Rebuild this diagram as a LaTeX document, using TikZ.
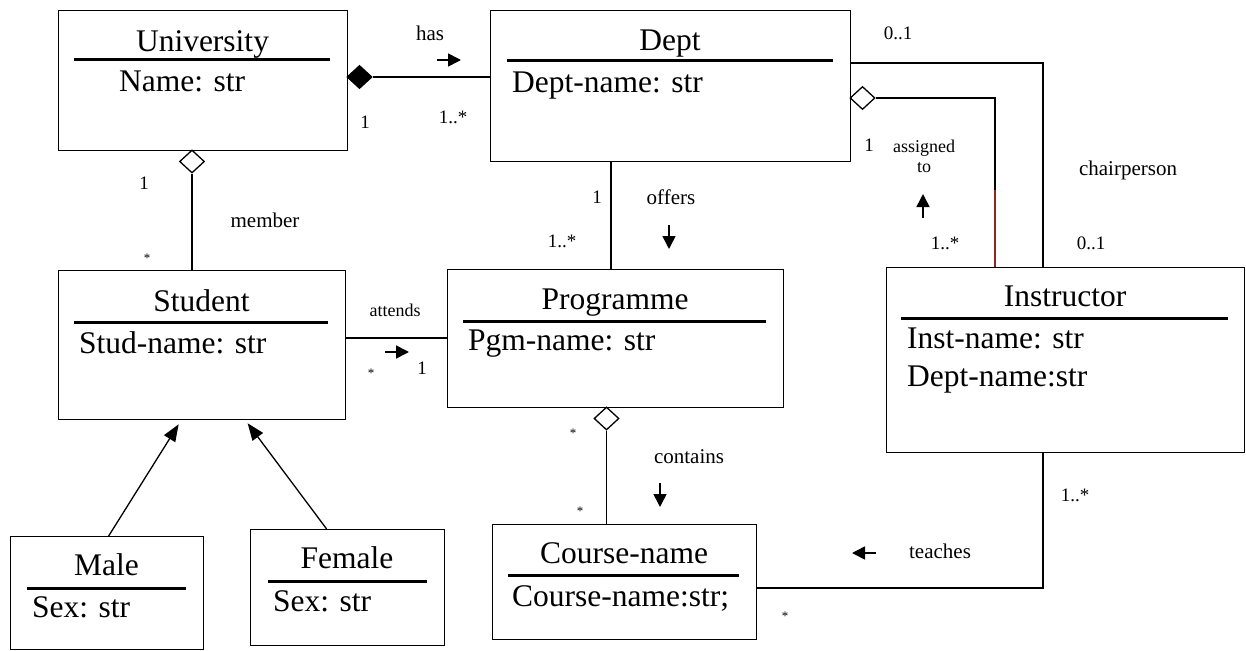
\documentclass[tikz,border=0pt]{standalone}
\usepackage{fontspec}
\setmainfont{Liberation Serif}
\usetikzlibrary{arrows.meta,shapes.geometric}

\begin{document}
\begin{tikzpicture}[x=1pt,y=-1pt,
  classbox/.style={draw, line width=1.3pt, inner sep=0pt, anchor=north west},
  ctitle/.style={font=\fontsize{31.5}{36}\selectfont, inner sep=0pt, anchor=base},
  cattr/.style={font=\fontsize{31.5}{36}\selectfont, inner sep=0pt, anchor=base west},
  cbar/.style={line width=3pt},
  lbl/.style={font=\fontsize{21}{24}\selectfont, inner sep=0pt},
  slbl/.style={font=\fontsize{18}{20}\selectfont, inner sep=0pt, align=center},
  mult/.style={font=\fontsize{19}{22}\selectfont, inner sep=0pt},
  starm/.style={font=\fontsize{13}{14}\selectfont, inner sep=0pt},
  link/.style={line width=1.2pt},
  dirarrow/.style={line width=1.6pt, -{Triangle[length=13pt,width=13pt]}},
  genarrow/.style={line width=1.3pt, -{Triangle[length=17pt,width=13pt]}},
  odia/.style={diamond, draw, fill=white, line width=1.3pt, minimum width=25pt, minimum height=23pt, inner sep=0pt},
  fdia/.style={odia, fill=black}]

\useasboundingbox (0,0) rectangle (1246,650);

% ---------- classes ----------
\node[classbox, minimum width=289pt, minimum height=140pt] (uni) at (58,10) {};
\node[ctitle] (uniT) at (202.5,52) {University};
\draw[cbar] (74,60) -- (330,60);
\node[cattr] (uniA) at (119,92) {Name: str};

\node[classbox, minimum width=360pt, minimum height=151pt] (dept) at (490,10) {};
\node[ctitle] (deptT) at (670,51) {Dept};
\draw[cbar] (507,61) -- (833,61);
\node[cattr] (deptA) at (512,93) {Dept-name: str};

\node[classbox, minimum width=336pt, minimum height=138pt] (prog) at (447,269) {};
\node[ctitle] (progT) at (615,309) {Programme};
\draw[cbar] (463,321) -- (766,321);
\node[cattr] (progA) at (468,350) {Pgm-name: str};

\node[classbox, minimum width=264pt, minimum height=115pt] (course) at (492,524) {};
\node[ctitle] (courseT) at (624,563) {Course-name};
\draw[cbar] (508,575) -- (739,575);
\node[cattr] (courseA) at (512,606) {Course-name:str;};

\node[classbox, minimum width=287pt, minimum height=149pt] (student) at (58,270) {};
\node[ctitle] (studentT) at (201.5,311) {Student};
\draw[cbar] (74,322) -- (328,322);
\node[cattr] (studentA) at (79,353) {Stud-name: str};

\node[classbox, minimum width=193pt, minimum height=113pt] (male) at (10,536) {};
\node[ctitle] (maleT) at (106.5,575) {Male};
\draw[cbar] (27,588) -- (186,588);
\node[cattr] (maleA) at (32,617) {Sex: str};

\node[classbox, minimum width=194pt, minimum height=116pt] (female) at (250,529) {};
\node[ctitle] (femaleT) at (347,568) {Female};
\draw[cbar] (268,581) -- (427,581);
\node[cattr] (femaleA) at (273,611) {Sex: str};

\node[classbox, minimum width=358pt, minimum height=185pt] (inst) at (886,267) {};
\node[ctitle] (instT) at (1065,306) {Instructor};
\draw[cbar] (901,318) -- (1228,318);
\node[cattr] (instA) at (907,348) {Inst-name: str};
\node[cattr] (instB) at (907,386) {Dept-name:str};

% ---------- routing helpers ----------
\coordinate (offX) at (611,0);
\coordinate (attY) at (0,338);
\coordinate (teY) at (0,588);
\coordinate (teX) at (1043,0);
\coordinate (chY) at (0,63);
\coordinate (chX) at (1043,0);
\coordinate (asX) at (995,0);
\coordinate (asR) at (995,190);

% ---------- associations ----------
% University <>-- Dept (composition)
\node[fdia] (dHas) at (359.5,77) {};
\draw[link] (dHas.east) -- (dept.west |- dHas.east);

% University <>-- Student (aggregation)
\node[odia] (dMem) at (192,161.5) {};
\draw[link] (dMem.south) -- (student.north -| dMem.south);

% Dept -- Programme
\draw[link] (dept.south -| offX) -- (prog.north -| offX);

% Student -- Programme
\draw[link] (student.east |- attY) -- (prog.west |- attY);

% Programme <>-- Course-name (aggregation)
\node[odia] (dCon) at (606.5,418.5) {};
\draw[link] (dCon.south) -- (course.north -| dCon.south);

% Instructor -- Course-name
\draw[link] (course.east |- teY) -| (inst.south -| teX);

% Dept -- Instructor (chairperson)
\draw[link] (dept.east |- chY) -| (inst.north -| chX);

% Dept <>-- Instructor (assigned to)
\node[odia] (dAs) at (862.5,98) {};
\draw[link] (dAs.east) -| (inst.north -| asX);
\draw[link, draw={rgb,255:red,150;green,35;blue,35}] (asR) -- (inst.north -| asX);

% ---------- generalisation ----------
\draw[genarrow] ([xshift=1.5pt]male.north) -- ([xshift=-23.5pt,yshift=-4pt]student.south);
\draw[genarrow] ([xshift=-21pt]female.north) -- ([xshift=45.5pt,yshift=-3pt]student.south);

% ---------- association names and reading directions ----------
\node[lbl] (lHas) at (430,33) {has};
\draw[dirarrow] (437,60) -- (461,60);

\node[lbl] (lMember) at (265,220) {member};

\node[lbl] (lOffers) at (671,197) {offers};
\draw[dirarrow] (669,225) -- (669,249);

\node[slbl] (lAttends) at (395,310) {attends};
\draw[dirarrow] (385,352) -- (409,352);

\node[lbl] (lContains) at (689,457) {contains};
\draw[dirarrow] (660,483) -- (660,507);

\node[lbl] (lTeaches) at (940,551) {teaches};
\draw[dirarrow] (876,553) -- (852,553);

\node[slbl] (lAssigned) at (924,156) {assigned\\to};
\draw[dirarrow] (923,218) -- (923,194);

\node[lbl] (lChair) at (1128,170) {chairperson};

% ---------- multiplicities ----------
\node[mult] (m1) at (365,122) {1};
\node[mult] (m2) at (453,117) {1..*};
\node[mult] (m3) at (144,183) {1};
\node[starm] (m4) at (147,258) {*};
\node[mult] (m5) at (597,197) {1};
\node[mult] (m6) at (562,241) {1..*};
\node[mult] (m7) at (869,145) {1};
\node[mult] (m8) at (898,33) {0..1};
\node[mult] (m9) at (945,243) {1..*};
\node[mult] (m10) at (1091,243) {0..1};
\node[starm] (m11) at (371,373) {*};
\node[mult] (m12) at (422,368) {1};
\node[starm] (m13) at (573,433) {*};
\node[starm] (m14) at (580,511) {*};
\node[mult] (m15) at (1075,495) {1..*};
\node[starm] (m16) at (785,616) {*};
\end{tikzpicture}
\end{document}
